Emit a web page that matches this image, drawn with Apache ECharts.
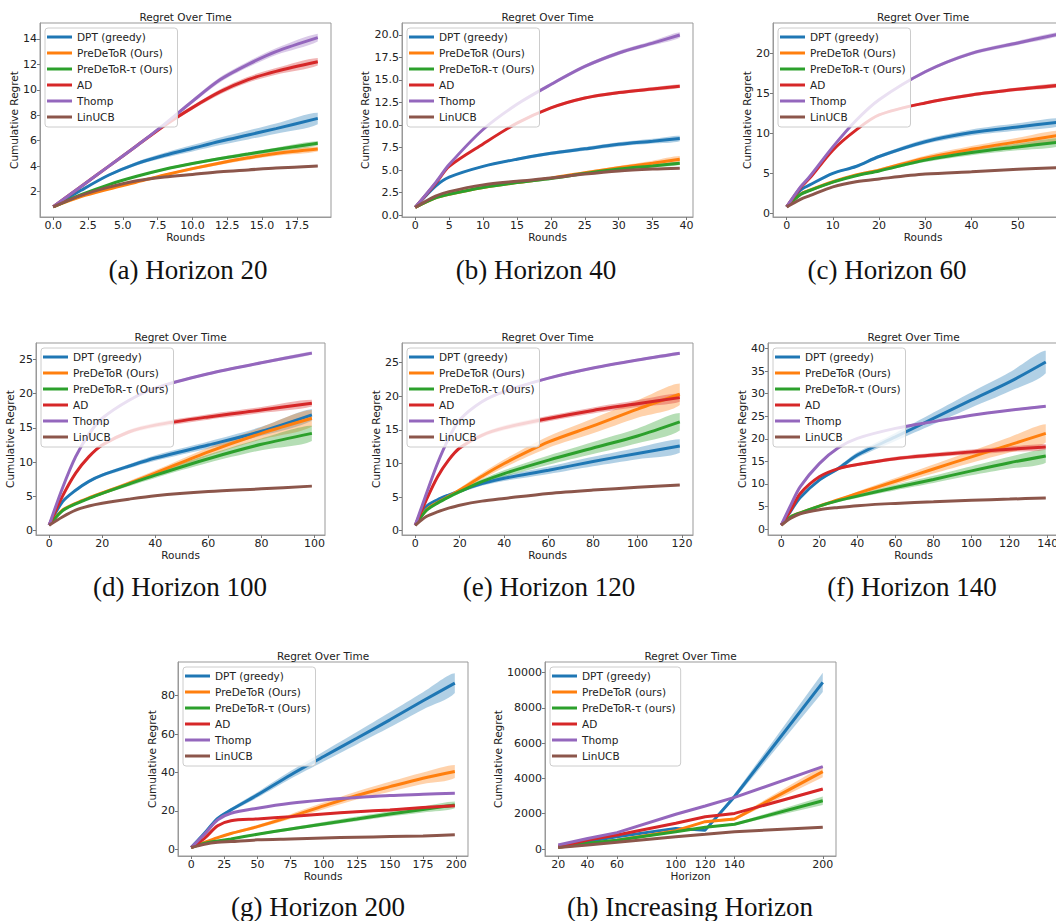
<!DOCTYPE html>
<html>
<head>
<meta charset="utf-8">
<script src="https://cdn.jsdelivr.net/npm/echarts@6/dist/echarts.min.js"></script>
<style>
html, body { margin: 0; padding: 0; background: #fff; overflow: hidden; }
#chart { width: 1090px; height: 921px; }
</style>
</head>
<body>
<div id="chart"></div>
<script>
// series names / colours (matplotlib tab10)
const NAMES = ['DPT (greedy)', 'PreDeToR (Ours)', 'PreDeToR-τ (Ours)', 'AD', 'Thomp', 'LinUCB']
const NAMES_H = ['DPT (greedy)', 'PreDeToR (ours)', 'PreDeToR-τ (ours)', 'AD', 'Thomp', 'LinUCB']
const COLORS = ['#1f77b4', '#ff7f0e', '#2ca02c', '#d62728', '#9467bd', '#8c564b']

// (a) Horizon 20
const A_x = [0, 2, 4, 6, 8, 10, 12, 14, 16, 19]
const A_dpt = [0.8, 2.1, 3.3, 4.2, 4.85, 5.4, 5.95, 6.45, 6.95, 7.75]
const A_pdt = [0.8, 1.6, 2.2, 2.75, 3.3, 3.8, 4.25, 4.65, 5.0, 5.35]
const A_pdtt = [0.8, 1.75, 2.55, 3.2, 3.75, 4.2, 4.6, 4.95, 5.3, 5.8]
const A_ad = [0.8, 2.4, 4.0, 5.6, 7.2, 8.6, 9.85, 10.8, 11.45, 12.2]
const A_thomp = [0.8, 2.4, 4.0, 5.6, 7.3, 9.1, 10.8, 12.0, 13.0, 14.1]
const A_lin = [0.8, 1.7, 2.35, 2.85, 3.15, 3.35, 3.55, 3.7, 3.85, 4.0]
const A_dpt_sd = [0, 0.05, 0.1, 0.15, 0.2, 0.25, 0.3, 0.35, 0.4, 0.45]
const A_pdt_sd = [0, 0.03, 0.05, 0.08, 0.1, 0.12, 0.14, 0.16, 0.18, 0.2]
const A_pdtt_sd = [0, 0.03, 0.05, 0.07, 0.09, 0.1, 0.12, 0.14, 0.15, 0.17]
const A_ad_sd = [0, 0.05, 0.08, 0.1, 0.13, 0.16, 0.2, 0.23, 0.26, 0.3]
const A_thomp_sd = [0, 0.05, 0.08, 0.1, 0.13, 0.16, 0.2, 0.23, 0.26, 0.3]
const A_lin_sd = [0, 0.02, 0.03, 0.04, 0.05, 0.05, 0.06, 0.06, 0.07, 0.07]
const A_xt = [0, 2.5, 5, 7.5, 10, 12.5, 15, 17.5]
const A_yt = [2, 4, 6, 8, 10, 12, 14]

// (b) Horizon 40
const B_x = [0, 3, 5, 10, 15, 20, 25, 30, 35, 39]
const B_dpt = [0.85, 3.2, 4.2, 5.4, 6.2, 6.85, 7.35, 7.85, 8.2, 8.5]
const B_pdt = [0.85, 1.9, 2.3, 3.05, 3.6, 4.1, 4.7, 5.25, 5.75, 6.2]
const B_pdtt = [0.85, 1.9, 2.3, 3.05, 3.6, 4.05, 4.6, 5.1, 5.45, 5.75]
const B_ad = [0.85, 3.5, 5.4, 7.9, 10.2, 11.9, 13.0, 13.6, 14.0, 14.3]
const B_thomp = [0.85, 3.6, 5.6, 9.5, 12.3, 14.5, 16.5, 18.0, 19.1, 20.0]
const B_lin = [0.85, 2.1, 2.6, 3.35, 3.75, 4.1, 4.55, 4.9, 5.1, 5.2]
const B_dpt_sd = [0, 0.05, 0.08, 0.1, 0.15, 0.18, 0.2, 0.23, 0.26, 0.3]
const B_pdt_sd = [0, 0.03, 0.04, 0.06, 0.08, 0.1, 0.15, 0.2, 0.28, 0.35]
const B_pdtt_sd = [0, 0.03, 0.04, 0.05, 0.07, 0.08, 0.1, 0.12, 0.15, 0.18]
const B_ad_sd = [0, 0.05, 0.08, 0.1, 0.12, 0.15, 0.17, 0.18, 0.2, 0.2]
const B_thomp_sd = [0, 0.05, 0.08, 0.1, 0.15, 0.18, 0.2, 0.22, 0.25, 0.3]
const B_lin_sd = [0, 0.02, 0.03, 0.04, 0.05, 0.05, 0.05, 0.06, 0.06, 0.06]
const B_xt = [0, 5, 10, 15, 20, 25, 30, 35, 40]
const B_yt = [0, 2.5, 5, 7.5, 10, 12.5, 15, 17.5, 20]

// (c) Horizon 60
const C_x = [0, 3, 5, 10, 15, 20, 30, 40, 50, 59]
const C_dpt = [0.8, 2.9, 3.55, 5.0, 5.85, 7.1, 8.95, 10.1, 10.8, 11.4]
const C_pdt = [0.8, 2.4, 2.9, 3.95, 4.8, 5.4, 6.9, 8.0, 8.95, 9.75]
const C_pdtt = [0.8, 2.35, 2.85, 3.9, 4.7, 5.3, 6.65, 7.6, 8.3, 8.9]
const C_ad = [0.8, 3.2, 4.4, 7.9, 10.4, 12.3, 13.8, 14.8, 15.5, 16.0]
const C_thomp = [0.8, 3.3, 4.6, 8.3, 11.6, 14.2, 17.7, 20.0, 21.3, 22.4]
const C_lin = [0.8, 1.75, 2.2, 3.3, 3.95, 4.3, 4.9, 5.2, 5.5, 5.7]
const C_dpt_sd = [0, 0.05, 0.08, 0.12, 0.15, 0.2, 0.3, 0.38, 0.45, 0.5]
const C_pdt_sd = [0, 0.05, 0.07, 0.1, 0.15, 0.2, 0.3, 0.4, 0.5, 0.6]
const C_pdtt_sd = [0, 0.05, 0.06, 0.09, 0.12, 0.16, 0.25, 0.33, 0.42, 0.5]
const C_ad_sd = [0, 0.05, 0.07, 0.1, 0.13, 0.15, 0.18, 0.2, 0.22, 0.25]
const C_thomp_sd = [0, 0.05, 0.07, 0.1, 0.15, 0.18, 0.2, 0.22, 0.25, 0.25]
const C_lin_sd = [0, 0.02, 0.03, 0.04, 0.05, 0.05, 0.06, 0.07, 0.07, 0.08]
const C_xt = [0, 10, 20, 30, 40, 50, 60]
const C_yt = [0, 5, 10, 15, 20]

// (d) Horizon 100
const D_x = [0, 5, 10, 15, 20, 30, 40, 60, 80, 99]
const D_dpt = [0.8, 4.2, 5.9, 7.2, 8.1, 9.4, 10.6, 12.5, 14.5, 16.9]
const D_pdt = [0.8, 3.0, 4.0, 4.8, 5.5, 6.9, 8.4, 11.5, 14.2, 16.4]
const D_pdtt = [0.8, 2.9, 3.9, 4.7, 5.45, 6.8, 8.1, 10.5, 12.6, 14.2]
const D_ad = [0.8, 5.0, 8.4, 10.8, 12.5, 14.4, 15.4, 16.6, 17.6, 18.6]
const D_thomp = [0.8, 6.2, 10.8, 14.1, 16.4, 19.0, 20.8, 22.9, 24.5, 25.9]
const D_lin = [0.8, 2.0, 3.0, 3.6, 4.0, 4.6, 5.1, 5.7, 6.1, 6.5]
const D_dpt_sd = [0, 0.1, 0.15, 0.2, 0.25, 0.3, 0.4, 0.5, 0.65, 0.85]
const D_pdt_sd = [0, 0.05, 0.1, 0.15, 0.2, 0.3, 0.4, 0.6, 0.9, 1.2]
const D_pdtt_sd = [0, 0.05, 0.1, 0.15, 0.2, 0.3, 0.4, 0.6, 0.85, 1.1]
const D_ad_sd = [0, 0.1, 0.15, 0.2, 0.25, 0.3, 0.35, 0.4, 0.45, 0.5]
const D_thomp_sd = [0, 0.1, 0.15, 0.2, 0.2, 0.2, 0.2, 0.2, 0.2, 0.25]
const D_lin_sd = [0, 0.03, 0.05, 0.06, 0.07, 0.08, 0.09, 0.1, 0.1, 0.1]
const D_xt = [0, 20, 40, 60, 80, 100]
const D_yt = [0, 5, 10, 15, 20, 25]

// (e) Horizon 120
const E_x = [0, 5, 10, 15, 20, 30, 40, 60, 80, 100, 119]
const E_dpt = [0.8, 3.6, 4.6, 5.3, 5.9, 7.0, 7.8, 9.0, 10.3, 11.5, 12.6]
const E_pdt = [0.8, 3.1, 4.2, 5.1, 6.05, 8.1, 10.0, 13.2, 15.6, 18.1, 20.3]
const E_pdtt = [0.8, 3.0, 4.1, 5.0, 5.8, 7.3, 8.5, 10.5, 12.3, 14.1, 16.2]
const E_ad = [0.8, 4.6, 8.0, 10.5, 12.3, 14.2, 15.3, 16.7, 17.9, 18.9, 19.8]
const E_thomp = [0.8, 5.5, 10.0, 13.7, 16.5, 19.2, 20.7, 22.7, 24.2, 25.4, 26.4]
const E_lin = [0.8, 2.1, 2.8, 3.35, 3.8, 4.4, 4.8, 5.55, 6.05, 6.45, 6.8]
const E_dpt_sd = [0, 0.1, 0.15, 0.2, 0.25, 0.3, 0.4, 0.55, 0.7, 0.85, 1.0]
const E_pdt_sd = [0, 0.1, 0.15, 0.2, 0.3, 0.45, 0.6, 0.85, 1.1, 1.3, 1.6]
const E_pdtt_sd = [0, 0.1, 0.15, 0.2, 0.25, 0.35, 0.5, 0.7, 0.9, 1.1, 1.3]
const E_ad_sd = [0, 0.1, 0.15, 0.2, 0.25, 0.3, 0.35, 0.4, 0.45, 0.5, 0.6]
const E_thomp_sd = [0, 0.1, 0.15, 0.2, 0.2, 0.2, 0.2, 0.2, 0.2, 0.2, 0.2]
const E_lin_sd = [0, 0.03, 0.05, 0.06, 0.07, 0.08, 0.09, 0.1, 0.1, 0.1, 0.1]
const E_xt = [0, 20, 40, 60, 80, 100, 120]
const E_yt = [0, 5, 10, 15, 20, 25]

// (f) Horizon 140
const F_x = [0, 5, 10, 20, 30, 40, 60, 80, 100, 120, 139]
const F_dpt = [0.9, 4.0, 7.0, 10.85, 13.4, 16.4, 20.4, 24.5, 28.6, 32.6, 37.0]
const F_pdt = [0.9, 2.7, 3.6, 5.1, 6.5, 7.9, 10.6, 13.3, 16.0, 18.65, 21.2]
const F_pdtt = [0.9, 2.7, 3.6, 5.1, 6.3, 7.3, 9.2, 11.0, 12.9, 14.7, 16.2]
const F_ad = [0.9, 4.2, 7.9, 11.6, 13.4, 14.3, 15.6, 16.4, 17.1, 17.7, 18.2]
const F_thomp = [0.9, 5.3, 9.4, 14.5, 18.0, 20.1, 22.3, 23.8, 25.2, 26.3, 27.2]
const F_lin = [0.9, 2.4, 3.4, 4.3, 4.8, 5.2, 5.7, 6.05, 6.4, 6.65, 6.9]
const F_dpt_sd = [0, 0.1, 0.2, 0.3, 0.45, 0.6, 0.9, 1.3, 1.7, 2.1, 2.5]
const F_pdt_sd = [0, 0.1, 0.15, 0.2, 0.3, 0.4, 0.7, 1.0, 1.3, 1.7, 2.0]
const F_pdtt_sd = [0, 0.1, 0.15, 0.2, 0.3, 0.4, 0.6, 0.8, 1.0, 1.3, 1.5]
const F_ad_sd = [0, 0.1, 0.15, 0.2, 0.25, 0.3, 0.4, 0.5, 0.55, 0.6, 0.65]
const F_thomp_sd = [0, 0.1, 0.15, 0.2, 0.2, 0.2, 0.2, 0.2, 0.2, 0.2, 0.2]
const F_lin_sd = [0, 0.03, 0.05, 0.06, 0.07, 0.08, 0.09, 0.1, 0.1, 0.1, 0.1]
const F_xt = [0, 20, 40, 60, 80, 100, 120, 140]
const F_yt = [0, 5, 10, 15, 20, 25, 30, 35, 40]

// (g) Horizon 200
const G_x = [0, 10, 20, 30, 50, 75, 100, 125, 150, 175, 199]
const G_dpt = [0.9, 8.3, 16.1, 20.5, 28.3, 38.7, 48.3, 57.8, 67.4, 77.3, 86.5]
const G_pdt = [0.9, 3.6, 6.1, 8.2, 11.8, 17.0, 22.6, 28.0, 32.6, 37.0, 40.5]
const G_pdtt = [0.9, 3.1, 4.3, 5.4, 7.8, 10.6, 13.2, 15.8, 18.4, 20.7, 23.1]
const G_ad = [0.9, 5.7, 12.2, 14.9, 15.8, 17.0, 18.4, 19.6, 20.5, 21.7, 22.7]
const G_thomp = [0.9, 7.8, 15.3, 18.75, 21.4, 24.0, 25.7, 26.9, 28.0, 28.6, 29.2]
const G_lin = [0.9, 2.6, 3.6, 4.0, 4.9, 5.4, 5.9, 6.25, 6.6, 6.9, 7.5]
const G_dpt_sd = [0, 0.3, 0.6, 0.9, 1.4, 2.0, 2.6, 3.2, 3.9, 4.5, 5.2]
const G_pdt_sd = [0, 0.2, 0.4, 0.6, 0.9, 1.3, 1.7, 2.1, 2.6, 3.0, 3.4]
const G_pdtt_sd = [0, 0.2, 0.3, 0.4, 0.6, 0.8, 1.0, 1.2, 1.4, 1.6, 1.8]
const G_ad_sd = [0, 0.2, 0.3, 0.3, 0.4, 0.4, 0.5, 0.5, 0.6, 0.6, 0.7]
const G_thomp_sd = [0, 0.2, 0.3, 0.3, 0.3, 0.3, 0.3, 0.3, 0.3, 0.3, 0.3]
const G_lin_sd = [0, 0.1, 0.1, 0.1, 0.15, 0.15, 0.15, 0.2, 0.2, 0.2, 0.2]
const G_xt = [0, 25, 50, 75, 100, 125, 150, 175, 200]
const G_yt = [0, 20, 40, 60, 80]

// (h) Increasing Horizon
const H_x = [20, 40, 60, 100, 120, 140, 200]
const H_dpt = [130, 420, 700, 1170, 1070, 2980, 9450]
const H_pdt = [100, 290, 500, 1040, 1550, 1700, 4390]
const H_pdtt = [100, 320, 500, 980, 1230, 1400, 2740]
const H_ad = [130, 510, 790, 1460, 1830, 2020, 3400]
const H_thomp = [230, 600, 930, 1970, 2440, 2930, 4670]
const H_lin = [90, 230, 380, 700, 830, 980, 1230]
const H_dpt_sd = [10, 20, 30, 50, 60, 150, 550]
const H_pdt_sd = [10, 15, 20, 40, 60, 80, 320]
const H_pdtt_sd = [10, 15, 20, 30, 40, 60, 240]
const H_ad_sd = [10, 20, 20, 30, 30, 40, 60]
const H_thomp_sd = [10, 10, 20, 20, 30, 30, 40]
const H_lin_sd = [5, 5, 10, 10, 10, 10, 20]
const H_xt = [20, 40, 60, 100, 120, 140, 200]
const H_yt = [0, 2000, 4000, 6000, 8000, 10000]

// 每个子图的位置和坐标范围
const panels = [
  {x: A_x, ys: [A_dpt, A_pdt, A_pdtt, A_ad, A_thomp, A_lin], sd: [A_dpt_sd, A_pdt_sd, A_pdtt_sd, A_ad_sd, A_thomp_sd, A_lin_sd],
    box: [40, 23, 291, 194], xr: [-0.95, 19.95], yr: [0, 15.25], xt: A_xt, yt: A_yt, dec: [1, 0], xname: 'Rounds', ygap: 16, names: NAMES, cap: ['(a) Horizon 20', 188, 270]},
  {x: B_x, ys: [B_dpt, B_pdt, B_pdtt, B_ad, B_thomp, B_lin], sd: [B_dpt_sd, B_pdt_sd, B_pdtt_sd, B_ad_sd, B_thomp_sd, B_lin_sd],
    box: [402, 23, 291, 194], xr: [-1.95, 40.95], yr: [-0.22, 21.33], xt: B_xt, yt: B_yt, dec: [0, 1], xname: 'Rounds', ygap: 27, names: NAMES, cap: ['(b) Horizon 40', 536, 270]},
  {x: C_x, ys: [C_dpt, C_pdt, C_pdtt, C_ad, C_thomp, C_lin], sd: [C_dpt_sd, C_pdt_sd, C_pdtt_sd, C_ad_sd, C_thomp_sd, C_lin_sd],
    box: [773, 23, 300, 194], xr: [-2.95, 61.95], yr: [-0.46, 23.79], xt: C_xt, yt: C_yt, dec: [0, 0], xname: 'Rounds', ygap: 17, names: NAMES, cap: ['(c) Horizon 60', 887, 270]},
  {x: D_x, ys: [D_dpt, D_pdt, D_pdtt, D_ad, D_thomp, D_lin], sd: [D_dpt_sd, D_pdt_sd, D_pdtt_sd, D_ad_sd, D_thomp_sd, D_lin_sd],
    box: [36, 343, 289, 192], xr: [-4.95, 103.95], yr: [-0.63, 27.38], xt: D_xt, yt: D_yt, dec: [0, 0], xname: 'Rounds', ygap: 17.5, names: NAMES, cap: ['(d) Horizon 100', 180, 587]},
  {x: E_x, ys: [E_dpt, E_pdt, E_pdtt, E_ad, E_thomp, E_lin], sd: [E_dpt_sd, E_pdt_sd, E_pdtt_sd, E_ad_sd, E_thomp_sd, E_lin_sd],
    box: [402, 343, 291, 192], xr: [-5.95, 124.95], yr: [-0.64, 27.93], xt: E_xt, yt: E_yt, dec: [0, 0], xname: 'Rounds', ygap: 18, names: NAMES, cap: ['(e) Horizon 120', 549, 587]},
  {x: F_x, ys: [F_dpt, F_pdt, F_pdtt, F_ad, F_thomp, F_lin], sd: [F_dpt_sd, F_pdt_sd, F_pdtt_sd, F_ad_sd, F_thomp_sd, F_lin_sd],
    box: [768, 343, 291, 192], xr: [-6.95, 145.95], yr: [-1.3, 41.2], xt: F_xt, yt: F_yt, dec: [0, 0], xname: 'Rounds', ygap: 16, names: NAMES, cap: ['(f) Horizon 140', 912, 587]},
  {x: G_x, ys: [G_dpt, G_pdt, G_pdtt, G_ad, G_thomp, G_lin], sd: [G_dpt_sd, G_pdt_sd, G_pdtt_sd, G_ad_sd, G_thomp_sd, G_lin_sd],
    box: [178, 662, 290, 194], xr: [-9.95, 208.95], yr: [-3.5, 97.5], xt: G_xt, yt: G_yt, dec: [0, 0], xname: 'Rounds', ygap: 17, names: NAMES, cap: ['(g) Horizon 200', 318, 907]},
  {x: H_x, ys: [H_dpt, H_pdt, H_pdtt, H_ad, H_thomp, H_lin], sd: [H_dpt_sd, H_pdt_sd, H_pdtt_sd, H_ad_sd, H_thomp_sd, H_lin_sd],
    box: [545, 662, 291, 194], xr: [11, 209], yr: [-397, 10607], xt: H_xt, yt: H_yt, dec: [0, 0], xname: 'Horizon', ygap: 28, names: NAMES_H, linear: true, cap: ['(h) Increasing Horizon', 690, 907]}
]

const FONT = 'DejaVu Sans'
const txt = {fontFamily: FONT, fontSize: 10.5, color: '#222'}
const tickTxt = {fontFamily: FONT, fontSize: 11, color: '#222'}

const chart = echarts.init(document.getElementById('chart'), null, {renderer: 'svg'})
const option = {
  animation: false,
  backgroundColor: '#fff',
  grid: [], xAxis: [], yAxis: [], legend: [], series: [], graphic: []
}

panels.forEach((p, i) => {
  const [l, t, w, h] = p.box
  option.grid.push({left: l, top: t, width: w, height: h, show: true, borderColor: '#999', borderWidth: 1, backgroundColor: 'transparent'})
  option.xAxis.push({
    type: 'value', gridIndex: i, min: p.xr[0], max: p.xr[1],
    name: p.xname, nameLocation: 'middle', nameGap: 13, nameTextStyle: txt,
    axisLine: {show: true, onZero: false, lineStyle: {color: '#999'}},
    splitLine: {show: false},
    axisTick: {show: true, length: 3, customValues: p.xt, lineStyle: {color: '#777'}},
    axisLabel: Object.assign({customValues: p.xt, margin: 3, formatter: v => v.toFixed(p.dec[0])}, tickTxt)
  })
  option.yAxis.push({
    type: 'value', gridIndex: i, min: p.yr[0], max: p.yr[1],
    name: 'Cumulative Regret', nameLocation: 'middle', nameGap: p.ygap, nameTextStyle: txt,
    axisLine: {show: true, onZero: false, lineStyle: {color: '#999'}},
    splitLine: {show: false},
    axisTick: {show: true, length: 3, customValues: p.yt, lineStyle: {color: '#777'}},
    axisLabel: Object.assign({customValues: p.yt, margin: 3, formatter: v => v.toFixed(p.dec[1])}, tickTxt)
  })
  option.legend.push({
    left: l + 5, top: t + 5, orient: 'vertical', data: p.names, icon: 'rect',
    itemWidth: 25, itemHeight: 3, itemGap: 4, padding: [3, 5, 4, 2],
    backgroundColor: 'rgba(255,255,255,0.8)', borderColor: '#ccc', borderWidth: 1, borderRadius: 3,
    textStyle: {fontFamily: FONT, fontSize: 10.5, lineHeight: 12, color: '#222'},
    selectedMode: false, z: 10
  })
  const smooth = p.linear ? 0 : 0.3
  p.ys.forEach((ys, k) => {
    const sd = p.sd[k]
    // 阴影带：用 custom 系列画一个多边形（上沿 + 反向下沿）
    option.series.push({
      type: 'custom', name: '_band', xAxisIndex: i, yAxisIndex: i, silent: true, z: 2,
      data: p.x.map((x, j) => [x, ys[j] - sd[j], ys[j] + sd[j]]),
      encode: {x: 0, y: [1, 2]},
      renderItem: (params, api) => {
        if (params.dataIndex !== 0) return
        const up = p.x.map((x, j) => api.coord([x, ys[j] + sd[j]]))
        const lo = p.x.map((x, j) => api.coord([x, ys[j] - sd[j]])).reverse()
        const pts = up.concat(lo)
        const xsP = pts.map(q => q[0]), ysP = pts.map(q => q[1])
        // keep the smoothed outline inside the band's own bounding box
        const box = [[Math.min(...xsP), Math.min(...ysP)], [Math.max(...xsP), Math.max(...ysP)]]
        return {
          type: 'polygon', silent: true,
          shape: {points: pts, smooth: smooth, smoothConstraint: box},
          style: {fill: COLORS[k], opacity: 0.35}
        }
      }
    })
    option.series.push({
      type: 'line', name: p.names[k], xAxisIndex: i, yAxisIndex: i, symbol: 'none', smooth: smooth, silent: true, z: 3,
      color: COLORS[k], lineStyle: {width: 3, color: COLORS[k]}, itemStyle: {color: COLORS[k]},
      data: p.x.map((x, j) => [x, ys[j]])
    })
  })
  // title and caption
  option.graphic.push({type: 'text', x: l + w / 2, y: t - 6.5, silent: true,
    style: {text: 'Regret Over Time', align: 'center', verticalAlign: 'middle', fontFamily: FONT, fontSize: 10.5, fill: '#222'}})
  option.graphic.push({type: 'text', x: p.cap[1], y: p.cap[2], silent: true,
    style: {text: p.cap[0], align: 'center', verticalAlign: 'middle', fontFamily: 'Liberation Serif', fontSize: 27, fill: '#111'}})
})

chart.setOption(option)
</script>
</body>
</html>
